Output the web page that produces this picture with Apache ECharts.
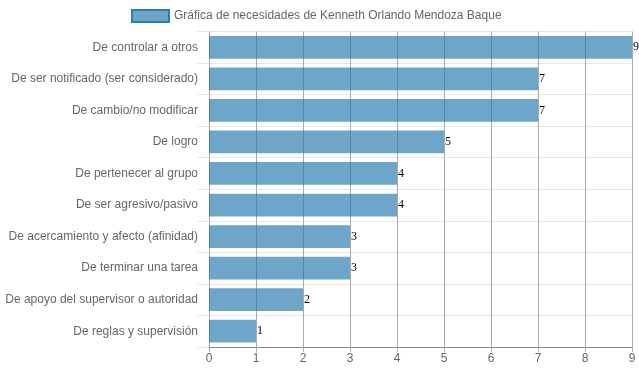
<!DOCTYPE html>
<html><head><meta charset="utf-8">
<script src="https://cdn.jsdelivr.net/npm/echarts@6/dist/echarts.min.js"></script>
<style>html,body{margin:0;padding:0;background:#fff}#c{width:639px;height:372px}</style>
</head><body><div id="c"></div>
<script>
const categories = [
  "De controlar a otros",
  "De ser notificado (ser considerado)",
  "De cambio/no modificar",
  "De logro",
  "De pertenecer al grupo",
  "De ser agresivo/pasivo",
  "De acercamiento y afecto (afinidad)",
  "De terminar una tarea",
  "De apoyo del supervisor o autoridad",
  "De reglas y supervisión"
];
const values = [9, 7, 7, 5, 4, 4, 3, 3, 2, 1];
const seriesName = "Gráfica de necesidades de Kenneth Orlando Mendoza Baque";
const xTicks = [0, 1, 2, 3, 4, 5, 6, 7, 8, 9];

const chart = echarts.init(document.getElementById('c'), null, {renderer: 'canvas'});
chart.setOption({
  animation: false,
  legend: {
    top: 4, left: 126,
    itemWidth: 37, itemHeight: 12, itemGap: 9,
    textStyle: {color: '#666', fontSize: 12, fontFamily: 'Liberation Sans, Arial, sans-serif'},
    data: [{name: seriesName, icon: 'rect', itemStyle: {color: 'rgba(31,119,170,0.65)', borderColor: '#2f7ca6', borderWidth: 2}}]
  },
  grid: {left: 209, right: 7, top: 31.5, bottom: 25, containLabel: false},
  xAxis: {
    type: 'value', min: 0, max: 9, interval: 1,
    axisLine: {show: true, lineStyle: {color: '#888'}},
    axisTick: {show: true, length: 5, lineStyle: {color: '#aaa'}},
    axisLabel: {color: '#666', fontSize: 12, margin: 6, fontFamily: 'Liberation Sans, Arial, sans-serif',
      formatter: v => xTicks.includes(v) ? String(v) : ''},
    splitLine: {show: true, lineStyle: {color: '#aaa', width: 1}}
  },
  yAxis: {
    type: 'category', data: categories, inverse: true,
    axisLine: {show: false},
    axisTick: {show: true, length: 12, lineStyle: {color: '#e8e8e8'}},
    axisLabel: {color: '#666', fontSize: 12, margin: 11, fontFamily: 'Liberation Sans, Arial, sans-serif'},
    splitLine: {show: true, lineStyle: {color: '#e8e8e8', width: 1}}
  },
  series: [{
    name: seriesName, type: 'bar', data: values,
    barCategoryGap: '28%',
    itemStyle: {color: 'rgba(31,119,170,0.65)'},
    label: {show: true, position: 'right', distance: 1, color: '#000', fontSize: 12,
      fontFamily: 'Liberation Serif, Times New Roman, serif'}
  }]
});
</script></body></html>
